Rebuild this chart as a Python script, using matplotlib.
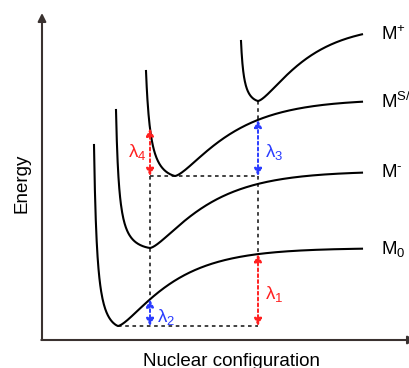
import numpy as np
import matplotlib.pyplot as plt

plt.rcParams['font.family'] = ['Liberation Sans', 'DejaVu Sans']
plt.rcParams['mathtext.fontset'] = 'custom'
plt.rcParams['mathtext.rm'] = 'Liberation Sans'
plt.rcParams['mathtext.default'] = 'regular'

# potential wells (arbitrary units, origin at the axes corner)
names   = ['M$_0$', r'M$^{\text{-}}$', 'M$^{S/T}$', 'M$^{+}$']
x_min   = [76, 108, 133, 216]       # position of the minimum
e_min   = [14, 92, 164, 239]        # energy of the minimum
depth   = [78, 77, 77, 77]          # rise from minimum to the flat part
width   = [0.021, 0.020, 0.020, 0.023]
x_start = [52, 74, 104, 199]        # where the inner wall starts (top)
e_start = [195, 230, 269, 299]
wall    = [4, 4, 6, 4]              # how hard the inner wall bends
x_end   = 320

# transitions: which curve, taken at the minimum of which other curve
lam_labels = ['λ$_1$', 'λ$_2$', 'λ$_3$', 'λ$_4$']
lam_state  = [0, 0, 2, 2]
lam_geom   = [3, 1, 3, 1]
lam_colors = ['#ff2020', '#2a3cff', '#2a3cff', '#ff2020']


def well(x, i):
    # morse-like right side, steep inner wall on the left
    x = np.asarray(x, dtype=float)
    xw = x_start[i] - wall[i]
    e = np.empty_like(x)
    right = x >= x_min[i]
    e[right] = e_min[i] + depth[i]*(1 - np.exp(-width[i]*(x[right] - x_min[i])))**1.5
    k = (e_start[i] - e_min[i]) / ((x_min[i] - x_start[i])/(x_start[i] - xw))**1.2
    left = ~right
    e[left] = e_min[i] + k*((x_min[i] - x[left])/(x[left] - xw))**1.2
    return e


def dotted(ax, x0, y0, x1, y1):
    ax.plot([x0, x1], [y0, y1], color='#333333', lw=1.3, ls=(0, (2, 2)), zorder=2)


fig = plt.figure(figsize=(4.1, 3.68), dpi=100)
ax = fig.add_axes([0, 0, 1, 1])
ax.set_xlim(-42, 368)
ax.set_ylim(-28, 340)
ax.axis('off')

# axes with arrows
axis_arrow = dict(arrowstyle='-|>', color='#3a3230', lw=1.5, mutation_scale=12,
                  shrinkA=0, shrinkB=0)
ax.annotate('', xy=(0, 327), xytext=(0, 0), arrowprops=axis_arrow, annotation_clip=False)
ax.annotate('', xy=(374, 0), xytext=(-0.7, 0), arrowprops=axis_arrow, annotation_clip=False)

for i in range(len(names)):
    xs = np.linspace(x_start[i], x_end, 600)
    ax.plot(xs, well(xs, i), color='black', lw=1.5, zorder=3)
    ax.text(x_end + 19, well([x_end], i)[0], names[i], fontsize=13.5, va='center', ha='left')

# dotted guide lines
xa, xb = x_min[1], x_min[3]
dotted(ax, x_min[0], e_min[0], xb, e_min[0])
dotted(ax, xa, e_min[2], xb, e_min[2])
dotted(ax, xa, e_min[2], xa, well([xa], 0)[0])
dotted(ax, xb, e_min[3], xb, well([xb], 2)[0])
dotted(ax, xb, e_min[2], xb, well([xb], 0)[0])

for lab, s, g, c in zip(lam_labels, lam_state, lam_geom, lam_colors):
    x = x_min[g]
    y0 = e_min[s]
    y1 = well([x], s)[0]
    ax.annotate('', xy=(x, y1), xytext=(x, y0),
                arrowprops=dict(arrowstyle='<|-|>', color=c, lw=1.4, ls=(0, (1.5, 1.5)),
                                mutation_scale=11, shrinkA=0, shrinkB=0), zorder=4)
    ym = (y0 + y1)/2
    if g == 1 and s == 2:
        ax.text(x - 4, ym, lab, color=c, fontsize=13.5, ha='right', va='center')
    else:
        ax.text(x + 7, ym - 4, lab, color=c, fontsize=13.5, ha='left', va='center')

ax.text(-20, 157, 'Energy', rotation=90, fontsize=13.5, ha='center', va='center')
ax.text(190, -21, 'Nuclear configuration', fontsize=13.5, ha='center', va='center')

plt.savefig('out.png', dpi=100)
